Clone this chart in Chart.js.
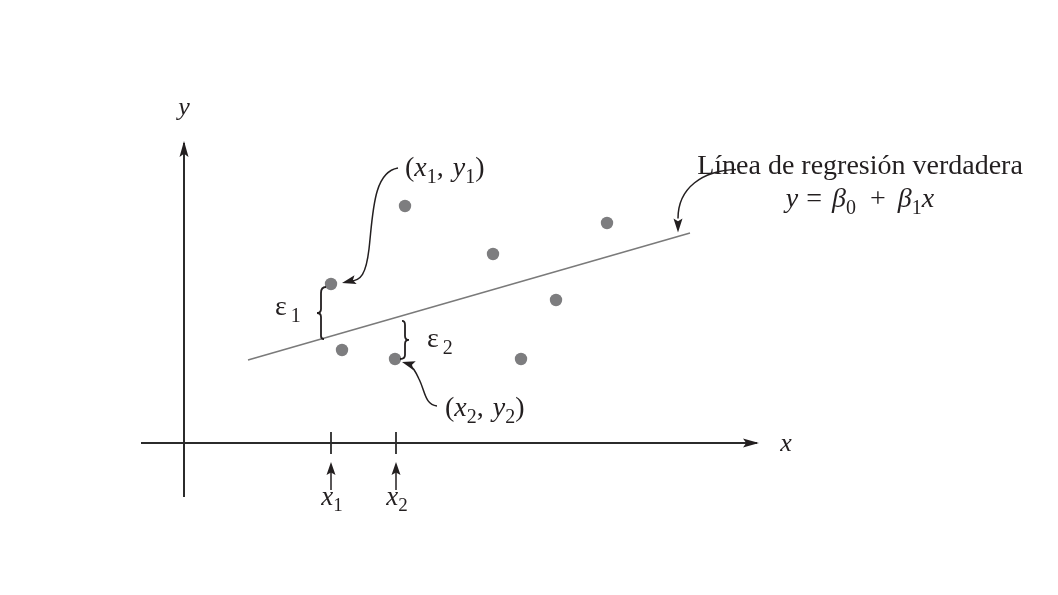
<!DOCTYPE html>
<html><head><meta charset="utf-8">
<script src="https://cdn.jsdelivr.net/npm/chart.js@4/dist/chart.umd.min.js"></script>
<style>html,body{margin:0;padding:0;background:#fff;overflow:hidden}#wrap{width:1058px;height:595px;position:relative}</style>
</head><body><div id="wrap"><canvas id="c" width="1058" height="595"></canvas></div>
<script>
// ---- data (units: arbitrary, origin at axis crossing) ----
const pointX = [7.35, 11.05, 15.45, 21.15, 18.6, 7.9, 10.55, 16.85];
const pointY = [7.95, 11.85, 9.45, 11.0, 7.15, 4.65, 4.2, 4.2];
const beta0 = 3.23;
const beta1 = 0.2873;
const lineX = [3.2, 25.3];
const xAxisRange = [-2.15, 28.65];
const yAxisRange = [-2.7, 15.0];
const tickX = [7.35, 10.6];
const tickLabels = ['1', '2'];
const labelPoint1 = 0;   // index of (x1, y1)
const labelPoint2 = 6;   // index of (x2, y2)

const FONT = '"Liberation Serif", "DejaVu Serif", serif';
const INK = '#231f20';

function drawRich(ctx, segs, x, y, align, size) {
  const fontOf = s => (s.it ? 'italic ' : '') + Math.round(s.sub ? size * 0.72 : size) + 'px ' + FONT;
  let w = 0;
  segs.forEach(s => { if (s.gap) { s.w = s.gap; } else { ctx.font = fontOf(s); s.w = ctx.measureText(s.t).width; } w += s.w; });
  let cx = align === 'center' ? x - w / 2 : (align === 'right' ? x - w : x);
  ctx.textAlign = 'left'; ctx.textBaseline = 'alphabetic'; ctx.fillStyle = INK;
  segs.forEach(s => { if (!s.gap) { ctx.font = fontOf(s); ctx.fillText(s.t, cx, y + (s.sub ? size * 0.24 : 0)); } cx += s.w; });
}
function head(ctx, tx, ty, ang, len, wid) {
  ctx.save(); ctx.translate(tx, ty); ctx.rotate(ang);
  ctx.beginPath(); ctx.moveTo(0, 0); ctx.lineTo(-len, -wid / 2); ctx.lineTo(-len * 0.8, 0); ctx.lineTo(-len, wid / 2); ctx.closePath();
  ctx.fillStyle = INK; ctx.fill(); ctx.restore();
}

const annot = {
  id: 'annot',
  afterDatasetsDraw(chart) {
    const ctx = chart.ctx, xs = chart.scales.x, ys = chart.scales.y;
    const X = v => xs.getPixelForValue(v), Y = v => ys.getPixelForValue(v);
    ctx.save();
    // axis arrowheads
    head(ctx, X(xAxisRange[1]) + 2, Y(0), 0, 16, 9);
    head(ctx, X(0), Y(yAxisRange[1]) - 2, -Math.PI / 2, 16, 9);
    // axis names
    drawRich(ctx, [{ t: 'x', it: true }], X(xAxisRange[1]) + 29, Y(0) + 8, 'center', 26);
    drawRich(ctx, [{ t: 'y', it: true }], X(0), Y(yAxisRange[1]) - 28, 'center', 26);
    // tick arrows & labels
    tickX.forEach((t, i) => {
      const px = X(t);
      ctx.strokeStyle = INK; ctx.lineWidth = 1.5;
      ctx.beginPath(); ctx.moveTo(px, Y(0) + 47); ctx.lineTo(px, Y(0) + 28); ctx.stroke();
      head(ctx, px, Y(0) + 19, -Math.PI / 2, 13, 9);
      drawRich(ctx, [{ t: 'x', it: true }, { t: tickLabels[i], sub: true }], px + 1, Y(0) + 62, 'center', 27);
    });
    // regression line pixel helper
    const rl = v => Y(beta0 + beta1 * v);
    // brace epsilon 1 ("{")
    const p1x = X(pointX[labelPoint1]), p1y = Y(pointY[labelPoint1]);
    const b1x = p1x - 10, b1t = p1y + 3, b1b = rl(pointX[labelPoint1] - 0.5);
    ctx.strokeStyle = INK; ctx.lineWidth = 1.8;
    let mid = (b1t + b1b) / 2;
    ctx.beginPath();
    ctx.moveTo(b1x + 5, b1t);
    ctx.quadraticCurveTo(b1x, b1t, b1x, b1t + 6);
    ctx.lineTo(b1x, mid - 4);
    ctx.quadraticCurveTo(b1x, mid, b1x - 4, mid);
    ctx.quadraticCurveTo(b1x, mid, b1x, mid + 4);
    ctx.lineTo(b1x, b1b - 3);
    ctx.quadraticCurveTo(b1x, b1b, b1x + 3, b1b);
    ctx.stroke();
    drawRich(ctx, [{ t: 'ε' }, { gap: 4 }, { t: '1', sub: true }], b1x - 46, mid + 2, 'left', 28);
    // brace epsilon 2 ("}")
    const p2x = X(pointX[labelPoint2]), p2y = Y(pointY[labelPoint2]);
    const b2x = p2x + 10, b2t = rl(pointX[labelPoint2]) + 3, b2b = p2y;
    mid = (b2t + b2b) / 2;
    ctx.beginPath();
    ctx.moveTo(b2x - 3, b2t);
    ctx.quadraticCurveTo(b2x, b2t, b2x, b2t + 4);
    ctx.lineTo(b2x, mid - 4);
    ctx.quadraticCurveTo(b2x, mid, b2x + 4, mid);
    ctx.quadraticCurveTo(b2x, mid, b2x, mid + 4);
    ctx.lineTo(b2x, b2b - 4);
    ctx.quadraticCurveTo(b2x, b2b, b2x - 5, b2b);
    ctx.stroke();
    drawRich(ctx, [{ t: 'ε' }, { gap: 4 }, { t: '2', sub: true }], b2x + 22, mid + 7, 'left', 28);
    // curved arrow to (x1,y1)
    ctx.lineWidth = 1.5;
    const t1x = p1x + 11, t1y = p1y - 1;
    ctx.beginPath();
    ctx.moveTo(p1x + 67, p1y - 116);
    ctx.bezierCurveTo(p1x + 42, p1y - 112, p1x + 42, p1y - 70, p1x + 38, p1y - 35);
    ctx.bezierCurveTo(p1x + 35, p1y - 10, p1x + 30, p1y - 3, t1x + 8, t1y - 2);
    ctx.stroke();
    head(ctx, t1x, t1y, Math.atan2(2, -8), 14, 9);
    drawRich(ctx, [{ t: '(' }, { t: 'x', it: true }, { t: '1', sub: true }, { t: ',' }, { gap: 9 }, { t: 'y', it: true }, { t: '1', sub: true }, { t: ')' }], p1x + 74, p1y - 108, 'left', 28);
    // curved arrow to (x2,y2)
    const t2x = p2x + 7, t2y = p2y + 3;
    ctx.beginPath();
    ctx.moveTo(p2x + 42, p2y + 47);
    ctx.bezierCurveTo(p2x + 30, p2y + 46, p2x + 30, p2y + 32, p2x + 24, p2y + 20);
    ctx.bezierCurveTo(p2x + 20, p2y + 11, p2x + 17, p2y + 7, t2x + 6, t2y + 2);
    ctx.stroke();
    head(ctx, t2x, t2y, Math.atan2(-2, -7), 13, 9);
    drawRich(ctx, [{ t: '(' }, { t: 'x', it: true }, { t: '2', sub: true }, { t: ',' }, { gap: 9 }, { t: 'y', it: true }, { t: '2', sub: true }, { t: ')' }], p2x + 50, p2y + 57, 'left', 28);
    // regression label arrow
    const rx = X(lineX[1]) - 12, ry = rl(lineX[1] - 0.6) - 4;
    ctx.beginPath();
    ctx.moveTo(rx + 58, ry - 63);
    ctx.bezierCurveTo(rx + 25, ry - 62, rx, ry - 45, rx, ry - 14);
    ctx.stroke();
    head(ctx, rx, ry, Math.PI / 2, 14, 9);
    drawRich(ctx, [{ t: 'Línea de regresión verdadera' }], 860, 174, 'center', 28);
    drawRich(ctx, [{ t: 'y', it: true }, { gap: 8 }, { t: '=' }, { gap: 10 }, { t: 'β', it: true }, { t: '0', sub: true }, { gap: 14 }, { t: '+' }, { gap: 12 }, { t: 'β', it: true }, { t: '1', sub: true }, { t: 'x', it: true }], 860, 207, 'center', 28);
    ctx.restore();
  }
};

const datasets = [
  { type: 'line', data: [{ x: xAxisRange[0], y: 0 }, { x: xAxisRange[1], y: 0 }], borderColor: '#2b2b2b', borderWidth: 2, pointRadius: 0 },
  { type: 'line', data: [{ x: 0, y: yAxisRange[0] }, { x: 0, y: yAxisRange[1] }], borderColor: '#2b2b2b', borderWidth: 2, pointRadius: 0 },
  ...tickX.map(t => ({ type: 'line', data: [{ x: t, y: -0.55 }, { x: t, y: 0.55 }], borderColor: '#2b2b2b', borderWidth: 1.8, pointRadius: 0 })),
  { type: 'line', data: lineX.map(v => ({ x: v, y: beta0 + beta1 * v })), borderColor: '#7a7a7a', borderWidth: 1.5, pointRadius: 0 },
  { type: 'scatter', data: pointX.map((v, i) => ({ x: v, y: pointY[i] })), backgroundColor: '#7d7d7f', borderWidth: 0, pointRadius: 6.2 }
];

new Chart(document.getElementById('c'), {
  type: 'scatter',
  data: { datasets },
  options: {
    responsive: false, animation: false, devicePixelRatio: 1,
    layout: { padding: 0, autoPadding: false },
    plugins: { legend: { display: false }, tooltip: { enabled: false } },
    scales: {
      x: { type: 'linear', min: -184 / 20, max: (1058 - 184) / 20, display: false },
      y: { type: 'linear', min: (443 - 595) / 20, max: 443 / 20, display: false }
    }
  },
  plugins: [annot]
});
</script></body></html>
